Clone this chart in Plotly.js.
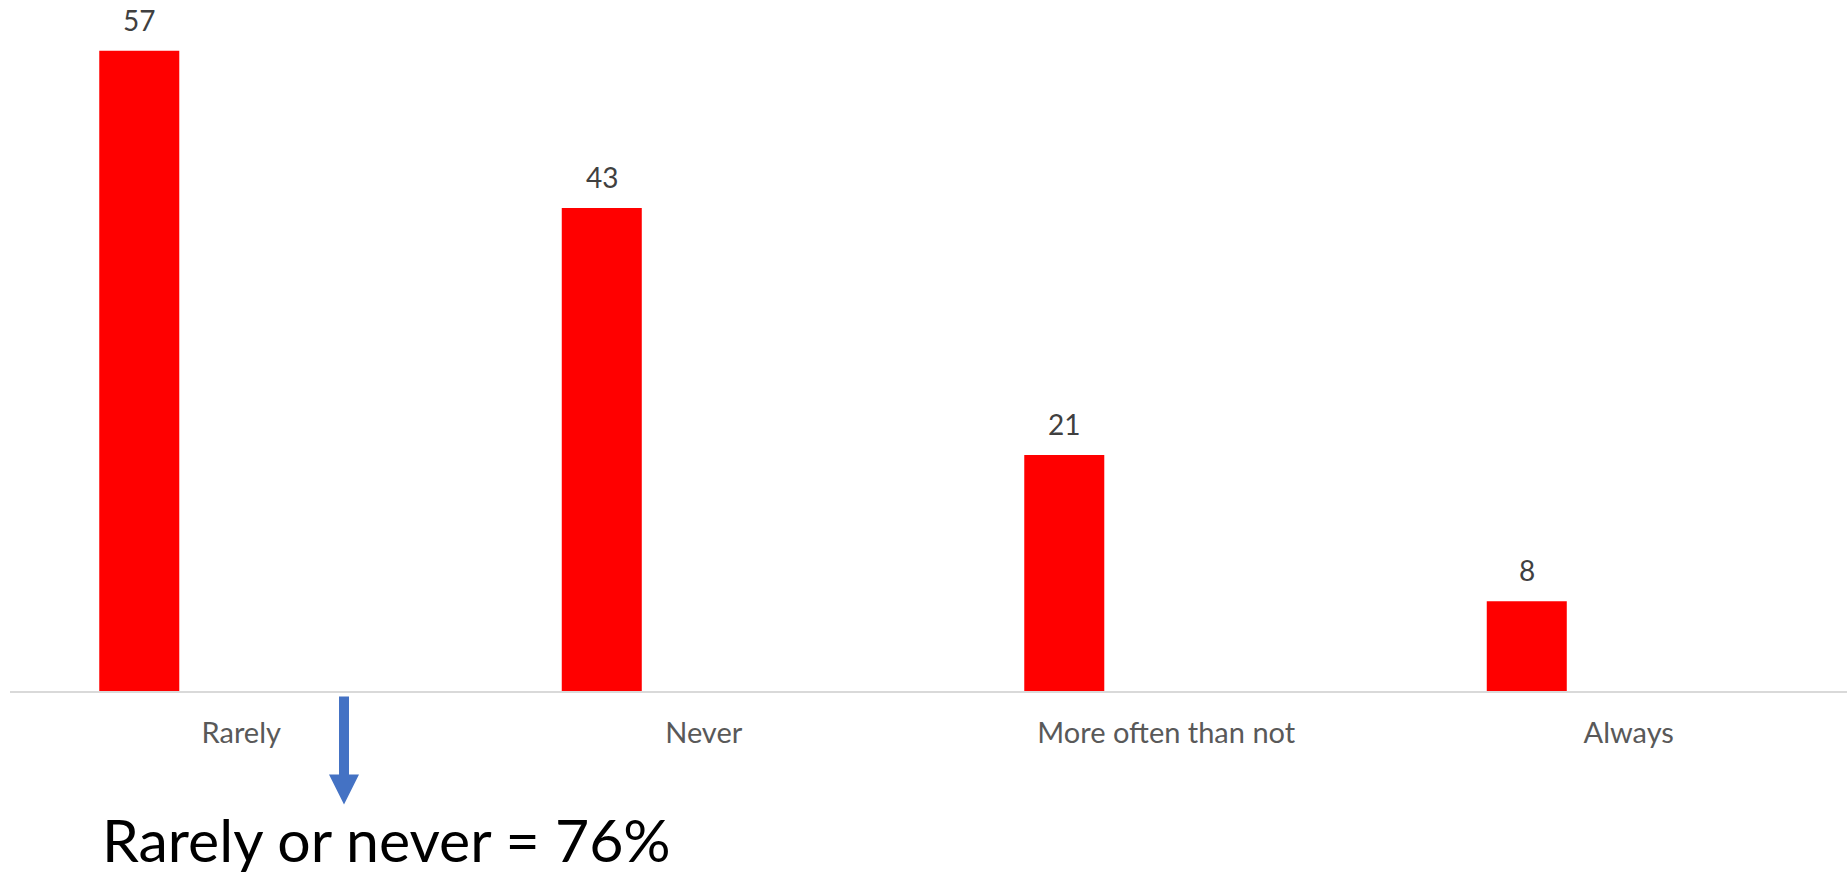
<!DOCTYPE html>
<html><head><meta charset="utf-8">
<script src="https://cdn.plot.ly/plotly-3.0.1.min.js"></script>
<style>html,body{margin:0;padding:0;background:#fff;}</style>
</head><body>
<div id="chart" style="width:1847px;height:874px;"></div>
<script>
const categories = ["Rarely", "Never", "More often than not", "Always"];
const values = [57, 43, 21, 8];
const summaryText = "Rarely or never = 76%";

const W = 1847, H = 874;
const M = {l: 10, r: 0, t: 17.4, b: 183.4};
const barOffset = -0.307, barWidth = 0.173;
const pw = W - M.l - M.r, ph = H - M.t - M.b;
const px = x => (x - M.l) / pw;
const py = y => (H - M.b - y) / ph;

const arrowPts = [[339,696],[349,696],[349,774],[359,774],[344,804],[329,774],[339,774]];
const arrowPath = arrowPts.map((p,i)=>(i?'L':'M')+px(p[0])+','+py(p[1])).join(' ')+' Z';

const trace = {
  type: 'bar',
  x: categories,
  y: values,
  width: values.map(()=>barWidth),
  offset: values.map(()=>barOffset),
  marker: {color: '#FF0000'},
  hoverinfo: 'x+y'
};

const annotations = values.map((v,i)=>({
  x: i + barOffset + barWidth/2, y: v, xref: 'x', yref: 'y',
  text: String(v), showarrow: false, yanchor: 'bottom', yshift: 12,
  font: {family: 'Lato, sans-serif', size: 28, color: '#404040'}
}));
annotations.push({
  xref: 'paper', yref: 'paper', x: px(100), y: py(839), xanchor: 'left', yanchor: 'middle',
  text: summaryText, showarrow: false,
  font: {family: 'Lato, sans-serif', size: 59, color: '#000000'}
});

const layout = {
  width: W, height: H,
  margin: M,
  paper_bgcolor: '#ffffff', plot_bgcolor: '#ffffff',
  showlegend: false,
  xaxis: {
    type: 'category', range: [-0.5, (W - M.l - M.r)/462.5 - 0.5],
    showline: true, linecolor: '#d9d9d9', linewidth: 2,
    showgrid: false, zeroline: false, ticks: '',
    tickfont: {family: 'Lato, sans-serif', size: 29, color: '#595959'},
    ticklabelstandoff: 15
  },
  yaxis: {
    range: [0, 60], showgrid: false, zeroline: false, showline: false,
    showticklabels: false, ticks: ''
  },
  annotations: annotations,
  shapes: [{
    type: 'path', xref: 'paper', yref: 'paper', path: arrowPath,
    fillcolor: '#4472C4', line: {width: 0}
  }]
};

Plotly.newPlot('chart', [trace], layout, {displayModeBar: false, staticPlot: true});
</script>
</body></html>
